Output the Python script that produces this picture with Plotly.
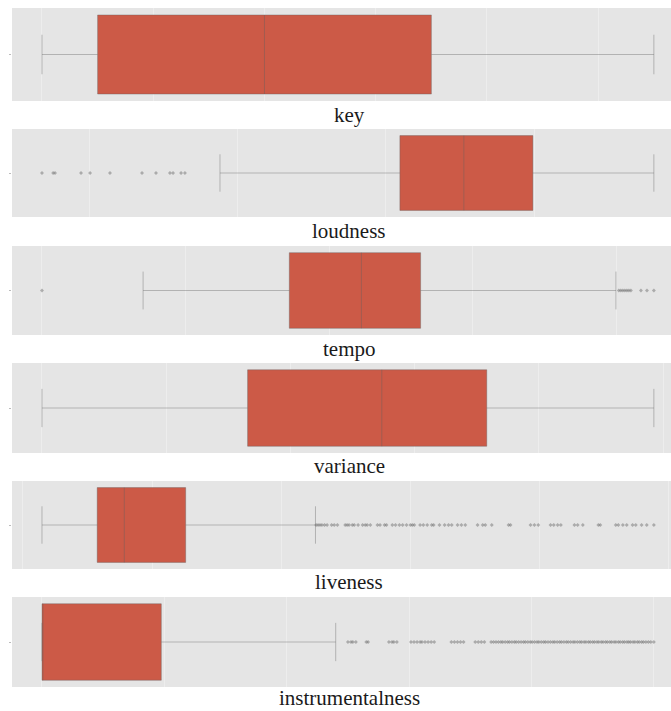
import plotly.graph_objects as go

# Audio features summarised as horizontal box plots (one panel per feature)
features = ["key", "loudness", "tempo", "variance", "liveness", "instrumentalness"]

# Five-number summaries (whisker ends are the fences)
lower_whisker = [0.0, -31.18, 35.2, 0.0, 0.0295, 0.0]
q1_vals = [1.0, -19.06, 86.1, 0.331, 0.115, 0.0]
median_vals = [4.0, -14.75, 111.2, 0.547, 0.157, 0.0]
q3_vals = [7.0, -10.10, 131.8, 0.716, 0.252, 0.195]
upper_whisker = [11.0, -1.95, 199.8, 0.985, 0.453, 0.48]

# Points beyond the whiskers
key_out = []
loudness_out = [-43.17, -42.42, -42.29, -40.54, -39.93, -38.59, -36.43, -35.49,
                -34.55, -34.34, -33.80, -33.54]
tempo_out = [0.0, 200.8, 201.5, 202.2, 202.9, 203.6, 204.3, 205.0, 208.5, 210.6, 213.0]
variance_out = []
liveness_out = [0.454, 0.457, 0.460, 0.463, 0.467, 0.471, 0.478, 0.482, 0.487, 0.499,
                0.502, 0.505, 0.510, 0.513, 0.519, 0.526, 0.530, 0.533, 0.538, 0.549,
                0.553, 0.560, 0.563, 0.572, 0.577, 0.583, 0.588, 0.594, 0.600, 0.603,
                0.606, 0.615, 0.620, 0.626, 0.633, 0.636, 0.645, 0.653, 0.659, 0.664,
                0.673, 0.679, 0.685, 0.704, 0.712, 0.716, 0.726, 0.752, 0.755, 0.786,
                0.792, 0.798, 0.817, 0.822, 0.828, 0.833, 0.854, 0.859, 0.867, 0.891,
                0.894, 0.918, 0.922, 0.929, 0.935, 0.944, 0.949, 0.958, 0.966, 0.977]
instrumentalness_out = [0.500, 0.505, 0.508, 0.513, 0.530, 0.533, 0.567, 0.572, 0.575,
                        0.580, 0.603, 0.608, 0.613, 0.618, 0.621, 0.626, 0.631, 0.636,
                        0.641, 0.669, 0.674, 0.679, 0.684, 0.689, 0.708, 0.713, 0.718,
                        0.723, 0.734, 0.738, 0.742, 0.746, 0.750, 0.753, 0.757, 0.761,
                        0.764, 0.768, 0.772, 0.775, 0.779, 0.783, 0.787, 0.790, 0.794,
                        0.798, 0.801, 0.805, 0.809, 0.812, 0.816, 0.820, 0.823, 0.827,
                        0.831, 0.835, 0.838, 0.842, 0.846, 0.849, 0.853, 0.857, 0.860,
                        0.864, 0.868, 0.871, 0.875, 0.879, 0.882, 0.886, 0.889, 0.893,
                        0.896, 0.900, 0.903, 0.907, 0.910, 0.914, 0.917, 0.921, 0.924,
                        0.928, 0.931, 0.935, 0.938, 0.942, 0.945, 0.949, 0.952, 0.956,
                        0.959, 0.962, 0.966, 0.969, 0.973, 0.976, 0.980, 0.983, 0.987,
                        0.991, 0.995, 1.000]
outliers = [key_out, loudness_out, tempo_out, variance_out, liveness_out, instrumentalness_out]

# Grid spacing for each panel
grid_step = [2, 10, 50, 0.2, 0.2, 0.2]

W, H = 671, 711
panel_px = [(8, 101), (129, 217), (246, 335), (363, 453), (481, 569), (597, 687)]
label_px = [115, 231, 349, 466, 582, 698]
box_color = "#CC5A47"
line_color = "rgba(95,95,95,0.38)"
panel_bg = "#E5E5E5"

fig = go.Figure()
layout = dict(
    width=W, height=H,
    margin=dict(l=0, r=0, t=0, b=0),
    paper_bgcolor="white",
    plot_bgcolor=panel_bg,
    showlegend=False,
    annotations=[],
)

for i, name in enumerate(features):
    n = i + 1
    xa = "x" if n == 1 else f"x{n}"
    ya = "y" if n == 1 else f"y{n}"

    fig.add_trace(go.Box(
        y=[0], q1=[q1_vals[i]], median=[median_vals[i]], q3=[q3_vals[i]],
        lowerfence=[lower_whisker[i]], upperfence=[upper_whisker[i]],
        orientation="h", width=0.85, whiskerwidth=0.5,
        fillcolor=box_color, line=dict(color=line_color, width=1),
        boxpoints=False, hoverinfo="skip",
        xaxis=xa, yaxis=ya,
    ))
    if outliers[i]:
        fig.add_trace(go.Scatter(
            x=outliers[i], y=[0] * len(outliers[i]), mode="markers",
            marker=dict(symbol="diamond", size=3, color="rgba(100,100,100,0.45)",
                        line=dict(width=0)),
            hoverinfo="skip", xaxis=xa, yaxis=ya,
        ))

    # axis extent: small pad on the left, right side runs to the page edge
    values = [lower_whisker[i], upper_whisker[i]] + outliers[i]
    dmin, dmax = min(values), max(values)
    span = dmax - dmin
    lo = dmin - 0.049 * span
    hi = dmax + 0.028 * span

    top, bottom = panel_px[i]
    ydom = [1 - bottom / H, 1 - top / H]

    layout["xaxis" if n == 1 else f"xaxis{n}"] = dict(
        domain=[12 / W, 1.0], range=[lo, hi], anchor=ya,
        showgrid=True, gridcolor="#EDEDED", gridwidth=1,
        tick0=0, dtick=grid_step[i], showticklabels=False, ticks="",
        zeroline=False, showline=False, fixedrange=True,
    )
    layout["yaxis" if n == 1 else f"yaxis{n}"] = dict(
        domain=ydom, range=[-0.5, 0.5], anchor=xa,
        showgrid=False, zeroline=False, showline=False,
        tickvals=[0], showticklabels=False, ticks="outside", ticklen=2,
        tickcolor="#BBBBBB", fixedrange=True,
    )

    layout["annotations"].append(dict(
        text=name, xref="paper", yref="paper",
        x=349 / W, y=1 - label_px[i] / H, xanchor="center", yanchor="middle",
        showarrow=False,
        font=dict(family="Liberation Serif, Times New Roman, serif", size=21, color="#1A1A1A"),
    ))

fig.update_layout(**layout)
fig.write_html("out.html")
